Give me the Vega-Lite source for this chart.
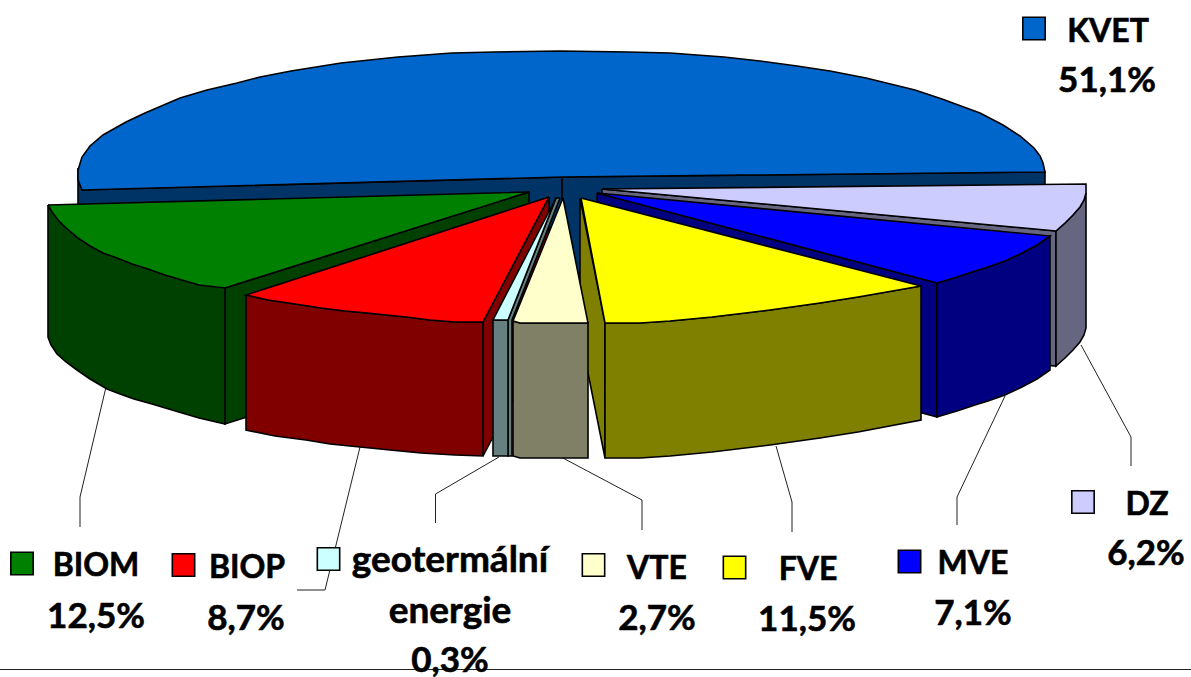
{
"$schema":"https://vega.github.io/schema/vega-lite/v6.json",
"width":1191,"height":677,"padding":0,"autosize":{"type":"none"},
"background":"white","config":{"view":{"stroke":null}},
"datasets":{
"faces":[
{"part":"KVET levý bok","i":0,"x":78,"y":168},{"part":"KVET levý bok","i":1,"x":82,"y":190},{"part":"KVET levý bok","i":2,"x":562,"y":177},{"part":"KVET levý bok","i":3,"x":562,"y":312},{"part":"KVET levý bok","i":4,"x":78,"y":325},{"part":"KVET levý bok","i":5,"x":78,"y":168},
{"part":"KVET pravý bok","i":0,"x":562,"y":177},{"part":"KVET pravý bok","i":1,"x":1045,"y":172},{"part":"KVET pravý bok","i":2,"x":1045,"y":307},{"part":"KVET pravý bok","i":3,"x":562,"y":312},{"part":"KVET pravý bok","i":4,"x":562,"y":177},
{"part":"KVET","i":0,"x":82,"y":190},{"part":"KVET","i":1,"x":78,"y":180},{"part":"KVET","i":2,"x":78,"y":170},{"part":"KVET","i":3,"x":82,"y":157},{"part":"KVET","i":4,"x":90,"y":146},{"part":"KVET","i":5,"x":103,"y":135},{"part":"KVET","i":6,"x":126,"y":122},{"part":"KVET","i":7,"x":145,"y":113},{"part":"KVET","i":8,"x":180,"y":98},{"part":"KVET","i":9,"x":207,"y":90},{"part":"KVET","i":10,"x":237,"y":83},{"part":"KVET","i":11,"x":260,"y":77},{"part":"KVET","i":12,"x":291,"y":71},{"part":"KVET","i":13,"x":341,"y":63},{"part":"KVET","i":14,"x":398,"y":57},{"part":"KVET","i":15,"x":452,"y":53},{"part":"KVET","i":16,"x":494,"y":52},{"part":"KVET","i":17,"x":560,"y":51},{"part":"KVET","i":18,"x":628,"y":52},{"part":"KVET","i":19,"x":670,"y":53},{"part":"KVET","i":20,"x":724,"y":57},{"part":"KVET","i":21,"x":760,"y":61},{"part":"KVET","i":22,"x":797,"y":66},{"part":"KVET","i":23,"x":830,"y":71},{"part":"KVET","i":24,"x":866,"y":78},{"part":"KVET","i":25,"x":915,"y":90},{"part":"KVET","i":26,"x":942,"y":99},{"part":"KVET","i":27,"x":980,"y":113},{"part":"KVET","i":28,"x":1003,"y":125},{"part":"KVET","i":29,"x":1020,"y":136},{"part":"KVET","i":30,"x":1034,"y":148},{"part":"KVET","i":31,"x":1040,"y":156},{"part":"KVET","i":32,"x":1043,"y":163},{"part":"KVET","i":33,"x":1045,"y":172},{"part":"KVET","i":34,"x":562,"y":177},{"part":"KVET","i":35,"x":82,"y":190},
{"part":"DZ vnitřní","i":0,"x":602,"y":189},{"part":"DZ vnitřní","i":1,"x":1056,"y":231},{"part":"DZ vnitřní","i":2,"x":1056,"y":366},{"part":"DZ vnitřní","i":3,"x":602,"y":324},{"part":"DZ vnitřní","i":4,"x":602,"y":189},
{"part":"DZ bok","i":0,"x":1056,"y":231},{"part":"DZ bok","i":1,"x":1065,"y":223},{"part":"DZ bok","i":2,"x":1073,"y":215},{"part":"DZ bok","i":3,"x":1080,"y":207},{"part":"DZ bok","i":4,"x":1084,"y":200},{"part":"DZ bok","i":5,"x":1086,"y":193},{"part":"DZ bok","i":6,"x":1086,"y":328},{"part":"DZ bok","i":7,"x":1084,"y":335},{"part":"DZ bok","i":8,"x":1080,"y":342},{"part":"DZ bok","i":9,"x":1073,"y":350},{"part":"DZ bok","i":10,"x":1065,"y":358},{"part":"DZ bok","i":11,"x":1056,"y":366},{"part":"DZ bok","i":12,"x":1056,"y":231},
{"part":"DZ","i":0,"x":602,"y":189},{"part":"DZ","i":1,"x":1086,"y":184},{"part":"DZ","i":2,"x":1086,"y":193},{"part":"DZ","i":3,"x":1084,"y":200},{"part":"DZ","i":4,"x":1080,"y":207},{"part":"DZ","i":5,"x":1073,"y":215},{"part":"DZ","i":6,"x":1065,"y":223},{"part":"DZ","i":7,"x":1056,"y":231},{"part":"DZ","i":8,"x":602,"y":189},
{"part":"MVE vnitřní","i":0,"x":597,"y":193},{"part":"MVE vnitřní","i":1,"x":937,"y":283},{"part":"MVE vnitřní","i":2,"x":937,"y":417},{"part":"MVE vnitřní","i":3,"x":597,"y":327},{"part":"MVE vnitřní","i":4,"x":597,"y":193},
{"part":"MVE bok","i":0,"x":937,"y":283},{"part":"MVE bok","i":1,"x":957,"y":277},{"part":"MVE bok","i":2,"x":975,"y":271},{"part":"MVE bok","i":3,"x":988,"y":267},{"part":"MVE bok","i":4,"x":1005,"y":261},{"part":"MVE bok","i":5,"x":1022,"y":253},{"part":"MVE bok","i":6,"x":1037,"y":245},{"part":"MVE bok","i":7,"x":1050,"y":236},{"part":"MVE bok","i":8,"x":1050,"y":370},{"part":"MVE bok","i":9,"x":1037,"y":379},{"part":"MVE bok","i":10,"x":1022,"y":387},{"part":"MVE bok","i":11,"x":1005,"y":395},{"part":"MVE bok","i":12,"x":988,"y":401},{"part":"MVE bok","i":13,"x":975,"y":405},{"part":"MVE bok","i":14,"x":957,"y":411},{"part":"MVE bok","i":15,"x":937,"y":417},{"part":"MVE bok","i":16,"x":937,"y":283},
{"part":"MVE","i":0,"x":597,"y":193},{"part":"MVE","i":1,"x":1050,"y":236},{"part":"MVE","i":2,"x":1037,"y":245},{"part":"MVE","i":3,"x":1022,"y":253},{"part":"MVE","i":4,"x":1005,"y":261},{"part":"MVE","i":5,"x":988,"y":267},{"part":"MVE","i":6,"x":975,"y":271},{"part":"MVE","i":7,"x":957,"y":277},{"part":"MVE","i":8,"x":937,"y":283},{"part":"MVE","i":9,"x":597,"y":193},
{"part":"FVE vnitřní","i":0,"x":580,"y":198},{"part":"FVE vnitřní","i":1,"x":605,"y":323},{"part":"FVE vnitřní","i":2,"x":605,"y":458},{"part":"FVE vnitřní","i":3,"x":580,"y":333},{"part":"FVE vnitřní","i":4,"x":580,"y":198},
{"part":"FVE bok","i":0,"x":605,"y":323},{"part":"FVE bok","i":1,"x":640,"y":323},{"part":"FVE bok","i":2,"x":670,"y":321},{"part":"FVE bok","i":3,"x":712,"y":317},{"part":"FVE bok","i":4,"x":770,"y":310},{"part":"FVE bok","i":5,"x":820,"y":303},{"part":"FVE bok","i":6,"x":858,"y":297},{"part":"FVE bok","i":7,"x":921,"y":286},{"part":"FVE bok","i":8,"x":921,"y":420},{"part":"FVE bok","i":9,"x":858,"y":432},{"part":"FVE bok","i":10,"x":820,"y":438},{"part":"FVE bok","i":11,"x":770,"y":445},{"part":"FVE bok","i":12,"x":712,"y":452},{"part":"FVE bok","i":13,"x":670,"y":456},{"part":"FVE bok","i":14,"x":640,"y":458},{"part":"FVE bok","i":15,"x":605,"y":458},{"part":"FVE bok","i":16,"x":605,"y":323},
{"part":"FVE","i":0,"x":581,"y":198},{"part":"FVE","i":1,"x":921,"y":286},{"part":"FVE","i":2,"x":858,"y":297},{"part":"FVE","i":3,"x":820,"y":303},{"part":"FVE","i":4,"x":770,"y":310},{"part":"FVE","i":5,"x":712,"y":317},{"part":"FVE","i":6,"x":670,"y":321},{"part":"FVE","i":7,"x":640,"y":323},{"part":"FVE","i":8,"x":605,"y":323},{"part":"FVE","i":9,"x":581,"y":198},
{"part":"BIOM vnitřní","i":0,"x":225,"y":288},{"part":"BIOM vnitřní","i":1,"x":529,"y":192},{"part":"BIOM vnitřní","i":2,"x":529,"y":327},{"part":"BIOM vnitřní","i":3,"x":225,"y":424},{"part":"BIOM vnitřní","i":4,"x":225,"y":288},
{"part":"BIOM bok","i":0,"x":48,"y":205},{"part":"BIOM bok","i":1,"x":225,"y":288},{"part":"BIOM bok","i":2,"x":225,"y":424},{"part":"BIOM bok","i":3,"x":199,"y":418},{"part":"BIOM bok","i":4,"x":172,"y":410},{"part":"BIOM bok","i":5,"x":152,"y":404},{"part":"BIOM bok","i":6,"x":134,"y":399},{"part":"BIOM bok","i":7,"x":120,"y":394},{"part":"BIOM bok","i":8,"x":107,"y":389},{"part":"BIOM bok","i":9,"x":90,"y":379},{"part":"BIOM bok","i":10,"x":77,"y":370},{"part":"BIOM bok","i":11,"x":66,"y":362},{"part":"BIOM bok","i":12,"x":57,"y":354},{"part":"BIOM bok","i":13,"x":51,"y":345},{"part":"BIOM bok","i":14,"x":48,"y":337},{"part":"BIOM bok","i":15,"x":48,"y":205},
{"part":"BIOM","i":0,"x":48,"y":205},{"part":"BIOM","i":1,"x":529,"y":192},{"part":"BIOM","i":2,"x":225,"y":288},{"part":"BIOM","i":3,"x":199,"y":285},{"part":"BIOM","i":4,"x":182,"y":280},{"part":"BIOM","i":5,"x":165,"y":275},{"part":"BIOM","i":6,"x":148,"y":269},{"part":"BIOM","i":7,"x":132,"y":264},{"part":"BIOM","i":8,"x":117,"y":258},{"part":"BIOM","i":9,"x":103,"y":253},{"part":"BIOM","i":10,"x":90,"y":246},{"part":"BIOM","i":11,"x":78,"y":238},{"part":"BIOM","i":12,"x":65,"y":227},{"part":"BIOM","i":13,"x":58,"y":220},{"part":"BIOM","i":14,"x":52,"y":212},{"part":"BIOM","i":15,"x":48,"y":205},
{"part":"BIOP vnitřní","i":0,"x":549,"y":197},{"part":"BIOP vnitřní","i":1,"x":483,"y":322},{"part":"BIOP vnitřní","i":2,"x":483,"y":456},{"part":"BIOP vnitřní","i":3,"x":549,"y":331},{"part":"BIOP vnitřní","i":4,"x":549,"y":197},
{"part":"BIOP bok","i":0,"x":246,"y":295},{"part":"BIOP bok","i":1,"x":268,"y":300},{"part":"BIOP bok","i":2,"x":295,"y":304},{"part":"BIOP bok","i":3,"x":321,"y":308},{"part":"BIOP bok","i":4,"x":345,"y":311},{"part":"BIOP bok","i":5,"x":367,"y":313},{"part":"BIOP bok","i":6,"x":406,"y":317},{"part":"BIOP bok","i":7,"x":430,"y":320},{"part":"BIOP bok","i":8,"x":455,"y":322},{"part":"BIOP bok","i":9,"x":483,"y":322},{"part":"BIOP bok","i":10,"x":483,"y":456},{"part":"BIOP bok","i":11,"x":455,"y":455},{"part":"BIOP bok","i":12,"x":421,"y":453},{"part":"BIOP bok","i":13,"x":390,"y":450},{"part":"BIOP bok","i":14,"x":360,"y":447},{"part":"BIOP bok","i":15,"x":330,"y":444},{"part":"BIOP bok","i":16,"x":306,"y":440},{"part":"BIOP bok","i":17,"x":275,"y":436},{"part":"BIOP bok","i":18,"x":246,"y":430},{"part":"BIOP bok","i":19,"x":246,"y":295},
{"part":"BIOP","i":0,"x":549,"y":197},{"part":"BIOP","i":1,"x":483,"y":322},{"part":"BIOP","i":2,"x":455,"y":322},{"part":"BIOP","i":3,"x":430,"y":320},{"part":"BIOP","i":4,"x":406,"y":317},{"part":"BIOP","i":5,"x":367,"y":313},{"part":"BIOP","i":6,"x":345,"y":311},{"part":"BIOP","i":7,"x":321,"y":308},{"part":"BIOP","i":8,"x":295,"y":304},{"part":"BIOP","i":9,"x":268,"y":300},{"part":"BIOP","i":10,"x":246,"y":295},{"part":"BIOP","i":11,"x":549,"y":197},
{"part":"geotermální vnitřní","i":0,"x":560,"y":198},{"part":"geotermální vnitřní","i":1,"x":512,"y":320},{"part":"geotermální vnitřní","i":2,"x":512,"y":456},{"part":"geotermální vnitřní","i":3,"x":508,"y":456},{"part":"geotermální vnitřní","i":4,"x":508,"y":320},{"part":"geotermální vnitřní","i":5,"x":556,"y":198},{"part":"geotermální vnitřní","i":6,"x":560,"y":198},
{"part":"geotermální bok","i":0,"x":493,"y":320},{"part":"geotermální bok","i":1,"x":508,"y":320},{"part":"geotermální bok","i":2,"x":508,"y":456},{"part":"geotermální bok","i":3,"x":493,"y":456},{"part":"geotermální bok","i":4,"x":493,"y":320},
{"part":"geotermální","i":0,"x":556,"y":198},{"part":"geotermální","i":1,"x":508,"y":320},{"part":"geotermální","i":2,"x":493,"y":320},{"part":"geotermální","i":3,"x":556,"y":198},
{"part":"VTE bok","i":0,"x":513,"y":321},{"part":"VTE bok","i":1,"x":520,"y":323},{"part":"VTE bok","i":2,"x":588,"y":323},{"part":"VTE bok","i":3,"x":588,"y":458},{"part":"VTE bok","i":4,"x":520,"y":458},{"part":"VTE bok","i":5,"x":513,"y":456},{"part":"VTE bok","i":6,"x":513,"y":321},
{"part":"VTE","i":0,"x":563,"y":198},{"part":"VTE","i":1,"x":588,"y":323},{"part":"VTE","i":2,"x":520,"y":323},{"part":"VTE","i":3,"x":513,"y":321},{"part":"VTE","i":4,"x":563,"y":198}
],
"leaders":[
{"to":"BIOM","i":0,"x":106,"y":387},{"to":"BIOM","i":1,"x":80,"y":497},{"to":"BIOM","i":2,"x":80,"y":527},
{"to":"BIOP","i":0,"x":360,"y":447},{"to":"BIOP","i":1,"x":325,"y":590},{"to":"BIOP","i":2,"x":297,"y":590},
{"to":"geotermální","i":0,"x":499,"y":457},{"to":"geotermální","i":1,"x":435.5,"y":494},{"to":"geotermální","i":2,"x":435.5,"y":523},
{"to":"VTE","i":0,"x":561,"y":457},{"to":"VTE","i":1,"x":642,"y":500},{"to":"VTE","i":2,"x":642,"y":530},
{"to":"FVE","i":0,"x":776,"y":446},{"to":"FVE","i":1,"x":792,"y":502},{"to":"FVE","i":2,"x":792,"y":532},
{"to":"MVE","i":0,"x":1005,"y":396},{"to":"MVE","i":1,"x":957,"y":497},{"to":"MVE","i":2,"x":957,"y":525},
{"to":"DZ","i":0,"x":1081,"y":345},{"to":"DZ","i":1,"x":1131,"y":437},{"to":"DZ","i":2,"x":1131,"y":466},
{"to":"základna","i":0,"x":0,"y":669.5},{"to":"základna","i":1,"x":1191,"y":669.5}
],
"keys":[
{"part":"KVET","x":1034,"y":28.5},{"part":"BIOM","x":22,"y":563.5},{"part":"BIOP","x":183.5,"y":565},{"part":"geotermální","x":328.5,"y":559},{"part":"VTE","x":593.5,"y":565},{"part":"FVE","x":734.5,"y":567.5},{"part":"MVE","x":909.5,"y":561.5},{"part":"DZ","x":1083,"y":502}
],
"names":[
{"t":"KVET","x":1108,"y":42},{"t":"BIOM","x":96,"y":576},{"t":"BIOP","x":247,"y":578},{"t":"VTE","x":657,"y":579},{"t":"FVE","x":808,"y":580},{"t":"MVE","x":973,"y":574},{"t":"DZ","x":1147,"y":515}
],
"percents":[
{"t":"51,1%","x":1107,"y":92},{"t":"12,5%","x":96,"y":628},{"t":"8,7%","x":246,"y":630},{"t":"0,3%","x":450,"y":672},{"t":"2,7%","x":657,"y":630},{"t":"11,5%","x":807,"y":631},{"t":"7,1%","x":973,"y":625},{"t":"6,2%","x":1146,"y":565}
],
"words":[
{"t":"geotermální","x":450,"y":572},{"t":"energie","x":450,"y":623}
]
},
"layer":[
{"data":{"name":"leaders"},"mark":{"type":"line","stroke":"#222222","strokeWidth":1,"clip":false},
 "encoding":{"x":{"field":"x","type":"quantitative","scale":{"domain":[0,1191],"nice":false,"zero":false},"axis":null},
 "y":{"field":"y","type":"quantitative","scale":{"domain":[677,0],"nice":false,"zero":false},"axis":null},
 "detail":{"field":"to"},"order":{"field":"i"}}},
{"data":{"name":"faces"},"mark":{"type":"line","stroke":"black","strokeWidth":1.6,"strokeJoin":"miter"},
 "encoding":{"x":{"field":"x","type":"quantitative","axis":null},
 "y":{"field":"y","type":"quantitative","axis":null},
 "fill":{"field":"part","type":"nominal","legend":null,"scale":{
  "domain":["KVET levý bok","KVET pravý bok","KVET","DZ vnitřní","DZ bok","DZ","MVE vnitřní","MVE bok","MVE","FVE vnitřní","FVE bok","FVE","BIOM vnitřní","BIOM bok","BIOM","BIOP vnitřní","BIOP bok","BIOP","geotermální vnitřní","geotermální bok","geotermální","VTE bok","VTE"],
  "range":["#003366","#003366","#0066CC","#666680","#666680","#CCCCFF","#000080","#000080","#0000FF","#808000","#808000","#FFFF00","#004000","#004000","#008000","#800000","#800000","#FF0000","#668080","#668080","#CCFFFF","#808066","#FFFFCC"]}},
 "order":{"field":"i"}}},
{"data":{"name":"keys"},"mark":{"type":"point","shape":"square","filled":true,"size":500,"stroke":"black","strokeWidth":1.6,"opacity":1},
 "encoding":{"x":{"field":"x","type":"quantitative","axis":null},"y":{"field":"y","type":"quantitative","axis":null},
 "fill":{"field":"part","type":"nominal","legend":null}}},
{"data":{"name":"names"},"mark":{"type":"text","font":"Lato","fontWeight":"bold","fontSize":32,"align":"center","baseline":"alphabetic","fill":"black","stroke":"black","strokeWidth":0.6},
 "encoding":{"x":{"field":"x","type":"quantitative","axis":null},"y":{"field":"y","type":"quantitative","axis":null},"text":{"field":"t"}}},
{"data":{"name":"percents"},"mark":{"type":"text","font":"Lato","fontWeight":"bold","fontSize":35,"align":"center","baseline":"alphabetic","fill":"black","stroke":"black","strokeWidth":0.6},
 "encoding":{"x":{"field":"x","type":"quantitative","axis":null},"y":{"field":"y","type":"quantitative","axis":null},"text":{"field":"t"}}},
{"data":{"name":"words"},"mark":{"type":"text","font":"Lato","fontWeight":"bold","fontSize":37,"align":"center","baseline":"alphabetic","fill":"black","stroke":"black","strokeWidth":0.6},
 "encoding":{"x":{"field":"x","type":"quantitative","axis":null},"y":{"field":"y","type":"quantitative","axis":null},"text":{"field":"t"}}}
]
}
